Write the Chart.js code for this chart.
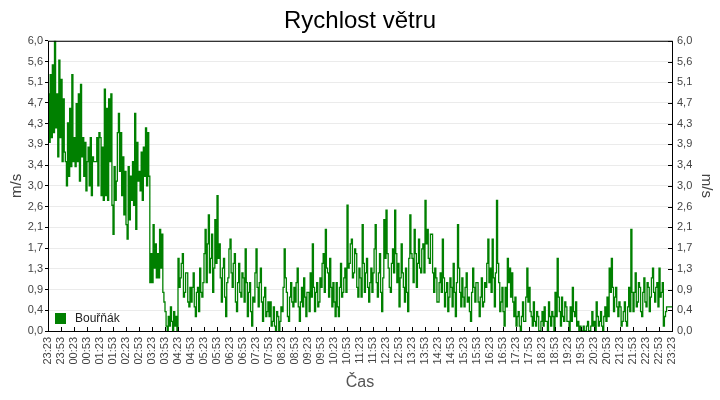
<!DOCTYPE html>
<html>
<head>
<meta charset="utf-8">
<title>Rychlost větru</title>
<script src="https://cdn.jsdelivr.net/npm/chart.js@4.4.1/dist/chart.umd.min.js"></script>
<style>
  html, body { margin: 0; padding: 0; background: #fff; }
  #wrap { width: 720px; height: 400px; }
</style>
</head>
<body>
<div id="wrap"><canvas id="windChart"></canvas></div>
<script>
// popisky osy X (každých 30 minut)
const tickLabels = [
    '23:23', '23:53', '00:23', '00:53', '01:23', '01:53', '02:23', '02:53',
    '03:23', '03:53', '04:23', '04:53', '05:23', '05:53', '06:23', '06:53',
    '07:23', '07:53', '08:23', '08:53', '09:23', '09:53', '10:23', '10:53',
    '11:23', '11:53', '12:23', '12:53', '13:23', '13:53', '14:23', '14:53',
    '15:23', '15:53', '16:23', '16:53', '17:23', '17:53', '18:23', '18:53',
    '19:23', '19:53', '20:23', '20:53', '21:23', '21:53', '22:23', '22:53',
    '23:23'
];

// interval měření v minutách
const stepMinutes = 2.5;

// rychlost větru, m/s (12 hodnot na každou půlhodinu od 23:23)
const speeds = [
    4.9, 3.9, 5.3, 4.0, 5.5, 4.1, 6.0, 4.2, 4.9, 3.6, 5.6, 4.0,
    5.2, 3.5, 4.8, 3.7, 3.5, 3.0, 4.3, 3.2, 4.6, 3.4, 5.3, 3.5,
    4.0, 3.4, 4.7, 3.5, 4.9, 3.1, 5.1, 3.6, 4.0, 3.2, 3.9, 2.9,
    3.5, 3.8, 3.0, 4.0, 2.8, 3.6, 3.5, 3.5, 3.5, 4.0, 3.0, 4.1,
    4.0, 2.8, 3.8, 2.7, 5.0, 2.8, 4.6, 2.7, 4.8, 3.5, 4.9, 2.6,
    2.0, 3.4, 2.7, 3.1, 4.1, 4.5, 3.3, 4.1, 2.8, 3.6, 2.4, 3.3,
    2.2, 1.9, 3.4, 2.3, 3.2, 2.7, 3.5, 2.6, 4.5, 2.1, 3.9, 3.1,
    3.3, 2.9, 3.7, 2.7, 3.8, 3.2, 4.2, 3.0, 4.1, 3.2, 1.0, 1.6,
    1.0, 2.2, 1.3, 1.8, 1.1, 1.6, 1.1, 2.1, 1.3, 2.0, 0.8, 0.6,
    0.4, 0.1, 0.0, 0.3, 0.1, 0.5, 0.2, 0.0, 0.4, 0.1, 0.3, 0.0,
    1.5, 0.9, 1.1, 1.4, 1.6, 0.7, 0.8, 1.2, 1.2, 0.6, 0.5, 0.9,
    0.6, 0.9, 1.2, 0.5, 0.3, 0.8, 0.9, 0.4, 1.3, 0.8, 0.7, 1.0,
    1.6, 2.1, 1.0, 1.8, 2.4, 1.2, 1.5, 2.0, 0.8, 1.3, 2.3, 1.4,
    2.8, 1.5, 1.8, 1.1, 0.6, 1.3, 1.5, 0.7, 0.3, 1.0, 1.1, 1.7,
    1.9, 1.2, 0.9, 1.4, 1.6, 0.6, 0.4, 1.0, 1.4, 0.8, 0.7, 1.2,
    1.1, 0.6, 1.7, 1.0, 0.3, 0.8, 1.0, 0.4, 0.1, 0.7, 0.6, 1.2,
    1.7, 0.9, 0.5, 1.0, 1.3, 0.6, 0.2, 0.7, 0.9, 0.3, 0.4, 0.6,
    0.3, 0.6, 0.1, 0.2, 0.5, 0.1, 0.0, 0.4, 0.3, 0.0, 0.2, 0.5,
    0.4, 0.9, 1.7, 1.1, 0.8, 0.3, 0.2, 0.7, 1.0, 0.6, 0.5, 0.9,
    0.6, 1.0, 1.3, 0.5, 0.2, 0.6, 0.9, 0.5, 1.1, 0.7, 0.3, 0.8,
    0.8, 0.4, 1.2, 0.7, 1.8, 0.9, 0.4, 0.8, 1.0, 0.5, 0.6, 1.1,
    0.9, 1.4, 1.6, 0.8, 2.1, 1.3, 1.2, 0.7, 1.5, 0.9, 0.5, 1.0,
    0.6, 0.3, 1.0, 0.5, 0.3, 0.9, 1.4, 0.7, 0.8, 1.1, 1.3, 0.8,
    2.6, 1.3, 1.4, 1.8, 1.9, 1.1, 1.2, 1.7, 1.6, 0.9, 0.7, 1.3,
    1.1, 0.7, 2.2, 1.4, 0.8, 1.2, 1.5, 0.9, 0.6, 1.0, 1.3, 0.8,
    1.2, 1.7, 2.2, 1.0, 0.7, 1.2, 1.6, 0.8, 0.4, 1.1, 2.3, 1.5,
    2.5, 1.6, 1.3, 0.9, 0.8, 1.4, 1.7, 1.2, 2.5, 1.6, 1.0, 1.4,
    0.5, 1.1, 1.8, 1.2, 0.9, 0.6, 1.3, 0.8, 0.4, 1.5, 2.4, 1.6,
    1.5, 1.0, 2.1, 1.6, 0.9, 1.4, 1.9, 1.3, 1.2, 1.7, 1.8, 1.2,
    2.7, 1.8, 2.1, 1.5, 1.4, 2.0, 2.0, 1.2, 0.8, 1.3, 1.1, 0.6,
    0.6, 1.0, 1.2, 0.8, 1.9, 1.1, 0.5, 0.8, 1.0, 0.4, 0.7, 1.1,
    0.9, 0.5, 1.4, 0.8, 0.3, 1.0, 2.2, 1.3, 0.8, 0.5, 1.1, 0.7,
    0.5, 0.9, 1.2, 0.6, 0.7, 0.4, 0.2, 0.8, 1.3, 0.9, 0.6, 1.0,
    1.0, 0.6, 0.3, 0.7, 1.1, 0.5, 0.6, 1.0, 0.9, 1.4, 1.9, 1.0,
    1.3, 0.8, 1.9, 1.1, 0.5, 1.2, 2.7, 1.4, 1.0, 0.4, 0.6, 0.9,
    0.4, 0.1, 0.9, 0.5, 1.5, 1.0, 1.3, 0.7, 1.2, 0.6, 0.3, 0.7,
    0.1, 0.3, 0.4, 0.1, 0.0, 0.3, 0.6, 0.2, 0.2, 0.7, 1.3, 0.6,
    0.9, 0.4, 0.3, 0.1, 0.6, 0.2, 0.1, 0.4, 0.3, 0.0, 0.0, 0.2,
    0.4, 0.1, 0.5, 0.2, 0.2, 0.0, 0.6, 0.3, 0.1, 0.4, 0.3, 0.0,
    0.8, 0.3, 1.5, 0.7, 0.4, 0.1, 0.7, 0.3, 0.2, 0.6, 0.5, 0.2,
    0.2, 0.0, 0.5, 0.2, 0.9, 0.4, 0.3, 0.6, 0.1, 0.2, 0.0, 0.1,
    0.0, 0.0, 0.1, 0.0, 0.0, 0.1, 0.2, 0.0, 0.0, 0.1, 0.4, 0.1,
    0.2, 0.0, 0.6, 0.3, 0.1, 0.2, 0.4, 0.1, 0.0, 0.3, 0.5, 0.2,
    0.7, 0.3, 1.3, 0.8, 1.5, 0.9, 0.4, 0.7, 0.9, 0.5, 0.3, 0.6,
    0.5, 0.1, 0.2, 0.4, 0.6, 0.2, 0.1, 0.5, 0.9, 0.4, 2.1, 0.8,
    0.4, 0.8, 1.2, 0.5, 0.6, 1.0, 0.9, 0.4, 0.3, 0.8, 1.1, 0.6,
    0.5, 1.0, 0.9, 0.4, 0.7, 1.1, 1.3, 0.8, 0.6, 0.9, 1.0, 0.5,
    1.3, 0.7, 0.8, 1.0, 0.1, 0.3, 0.4, 0.5, 0.5, 0.5, 0.5, 0.5,
    0.5
];

const seriesName = 'Bouřňák';
const seriesColor = '#008000';

const yMin = 0;
const yMax = 6;
const yStep = 6 / 14;

function formatSpeed(value) {
    return value.toFixed(1).replace('.', ',');
}

// rámeček, vnitřní značky a legenda uvnitř grafu
const framePlugin = {
    id: 'frame',
    afterDraw(chart) {
        const ctx = chart.ctx;
        const area = chart.chartArea;
        const xScale = chart.scales.x;
        const y2 = chart.scales.y2;
        ctx.save();
        ctx.strokeStyle = '#000';
        ctx.lineWidth = 1;
        ctx.beginPath();
        xScale.ticks.forEach(t => {
            const px = Math.round(xScale.getPixelForValue(t.value)) + 0.5;
            ctx.moveTo(px, area.bottom);
            ctx.lineTo(px, area.bottom - 4);
        });
        y2.ticks.forEach(t => {
            const py = Math.round(y2.getPixelForValue(t.value)) + 0.5;
            ctx.moveTo(area.right, py);
            ctx.lineTo(area.right - 4, py);
        });
        ctx.stroke();
        ctx.strokeRect(area.left + 0.5, area.top + 0.5, area.right - area.left, area.bottom - area.top);

        // legenda
        const lx = area.left + 7;
        const ly = area.bottom - 18;
        ctx.fillStyle = seriesColor;
        ctx.fillRect(lx, ly, 11, 11);
        ctx.fillStyle = '#222';
        ctx.font = '12px "Liberation Sans", Arial, sans-serif';
        ctx.textBaseline = 'middle';
        ctx.textAlign = 'left';
        ctx.fillText(chart.data.datasets[0].label, lx + 20, ly + 6);
        ctx.restore();
    }
};

const tickFont = { family: '"Liberation Sans", Arial, sans-serif', size: 11 };
const titleFont = { family: '"Liberation Sans", Arial, sans-serif', size: 15 };

new Chart(document.getElementById('windChart'), {
    type: 'line',
    data: {
        datasets: [{
            label: seriesName,
            data: speeds.map((v, i) => ({ x: i * stepMinutes, y: v })),
            borderColor: seriesColor,
            backgroundColor: seriesColor,
            borderWidth: 1.3,
            stepped: 'before',
            pointRadius: 0,
            yAxisID: 'y'
        }]
    },
    options: {
        responsive: true,
        maintainAspectRatio: false,
        animation: false,
        layout: { padding: 0 },
        plugins: {
            legend: { display: false },
            tooltip: { enabled: false },
            title: {
                display: true,
                text: 'Rychlost větru',
                color: '#000',
                font: { family: '"Liberation Sans", Arial, sans-serif', size: 24, weight: 'normal' },
                padding: { top: 7, bottom: 5 }
            }
        },
        scales: {
            x: {
                type: 'linear',
                min: 0,
                max: (tickLabels.length - 1) * 30,
                afterFit(scale) { scale.height = 69; },
                ticks: {
                    stepSize: 30,
                    autoSkip: false,
                    maxRotation: 90,
                    minRotation: 90,
                    padding: 6,
                    color: '#444',
                    font: tickFont,
                    callback: (value) => tickLabels[Math.round(value / 30)]
                },
                grid: { display: false, drawTicks: false },
                border: { display: false },
                title: {
                    display: true,
                    text: 'Čas',
                    color: '#555',
                    font: { family: '"Liberation Sans", Arial, sans-serif', size: 16 },
                    padding: { top: 0, bottom: 8 }
                }
            },
            y: {
                position: 'left',
                min: yMin,
                max: yMax,
                afterFit(scale) { scale.width = 48; },
                ticks: {
                    stepSize: yStep,
                    padding: 2,
                    color: '#444',
                    font: tickFont,
                    callback: (value) => formatSpeed(value)
                },
                grid: { color: '#ebebeb', tickColor: '#000', tickLength: 3 },
                border: { display: false },
                title: {
                    display: true,
                    text: 'm/s',
                    color: '#444',
                    font: titleFont,
                    padding: { top: 8, bottom: 0 }
                }
            },
            y2: {
                position: 'right',
                min: yMin,
                max: yMax,
                afterFit(scale) { scale.width = 48; },
                ticks: {
                    stepSize: yStep,
                    padding: 5,
                    color: '#444',
                    font: tickFont,
                    callback: (value) => formatSpeed(value)
                },
                grid: { drawOnChartArea: false, drawTicks: false },
                border: { display: false },
                title: {
                    display: true,
                    text: 'm/s',
                    color: '#444',
                    font: titleFont,
                    padding: { top: 5, bottom: 0 }
                }
            }
        }
    },
    plugins: [framePlugin]
});
</script>
</body>
</html>
